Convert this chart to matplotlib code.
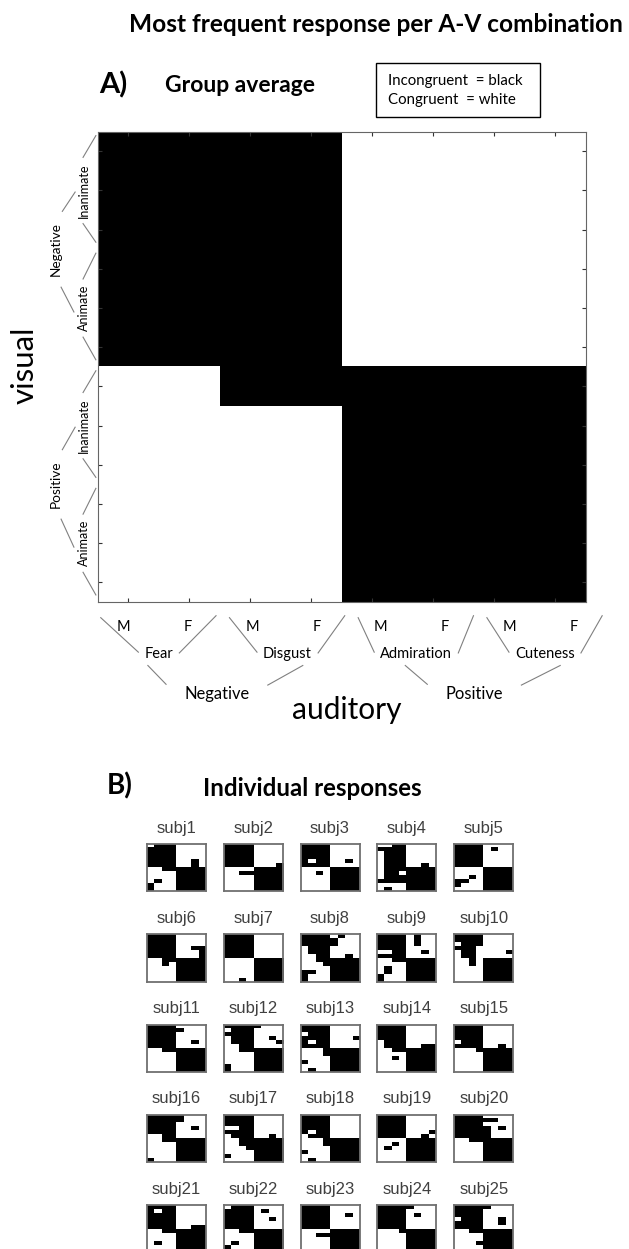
import numpy as np
import matplotlib
matplotlib.use("Agg")
import matplotlib.pyplot as plt
from matplotlib.colors import ListedColormap
from matplotlib.patches import Rectangle

# '#' = incongruent (black), '.' = congruent (white)
# rows: visual items (Neg inanimate x3, Neg animate x3, Pos inanimate x3, Pos animate x3)
# cols: auditory items (Fear M/F, Disgust M/F, Admiration M/F, Cuteness M/F)
group_avg = [
    "####....", "####....", "####....", "####....", "####....", "####....",
    "..######", "....####", "....####", "....####", "....####", "....####",
]

sound_sex = ["M", "F", "M", "F", "M", "F", "M", "F"]
sound_cats = ["Fear", "Disgust", "Admiration", "Cuteness"]
valence = ["Negative", "Positive"]
visual_cats = ["Inanimate", "Animate", "Inanimate", "Animate"]

subj_labels = ["subj%d" % i for i in range(1, 26)]
subj_grids = [
    [".###....", "####....", "####....", "####....", "####..#.", "####..#.",
     "..######", "....####", "....####", ".#..####", "#...####", "#...####"],
    ["####....", "####....", "####....", "####....", "####....", "####...#",
     "....####", "..######", "....####", "....####", "....####", "....####"],
    ["####....", "####....", "####....", "####....", "#.##..#.", "####....",
     "....####", "..#.####", "....####", "....####", "....####", "....####"],
    ["..##....", "####....", ".###....", ".###....", ".###....", ".###..#.",
     ".#######", ".##.####", ".#######", "########", "....####", ".#..####"],
    ["####....", "####.#..", "####....", "####....", "####....", "####....",
     "....####", "....####", "..#.####", "##..####", "#...####", "....####"],
    ["####....", "####....", "####....", "####..##", "####...#", "####...#",
     "..######", "..#.####", "....####", "....####", "....####", "....####"],
    ["####....", "####....", "####....", "####....", "####....", "####....",
     "....####", "....####", "....####", "....####", "....####", "..#.####"],
    ["####.#..", "#####...", "#####...", ".###....", ".###....", "..##..#.",
     "..######", "...#####", "....####", "##..####", "#...####", "#...####"],
    ["####.#..", "####.#..", "####.#..", "####....", "..##..#.", "####....",
     "..######", "....####", ".#..####", ".#..####", "#...####", "#...####"],
    ["####....", "####....", ".###....", "###.....", ".##....#", ".##.....",
     "..#.####", "..#.####", "....####", "....####", "....####", "....####"],
    ["####....", "#####...", "####....", "####....", "####..#.", "####....",
     "..######", "....####", "....####", "....####", "....####", "....####"],
    ["#####...", ".###....", "####....", ".###..#.", ".###...#", "..##....",
     "..######", "....####", "....####", "....####", "#...####", "#...####"],
    ["####....", "####....", ".###....", "####...#", "#.##....", "####....",
     "...#####", "...#####", "....####", "#...####", "....####", ".#..####"],
    ["####....", "####....", "####....", "####....", ".###....", ".###..##",
     "..######", "....####", "..#.####", "....####", "....####", "....####"],
    ["####....", "####....", "####....", "####....", ".###....", "####..#.",
     "...#####", "....####", "....####", "....####", "....####", "....####"],
    ["#####...", "#####...", "####....", "####..#.", "####....", "..##....",
     "..######", "....####", "....####", "....####", "....####", "#...####"],
    ["####....", "####....", "####....", "..##....", "####....", ".###..#.",
     "..######", "..######", "...#####", "....####", "#...####", "....####"],
    ["####....", "####....", "####....", "####....", "#.##....", ".###....",
     "...#####", "...#####", "....####", "#...####", "....####", ".#..####"],
    ["####....", "####....", "####....", "####....", "####...#", "####..#.",
     "....####", "..#.####", ".#..####", "....####", "....####", "....####"],
    ["####....", "######..", "####....", "#####.#.", "#####...", "#####...",
     "..######", "....####", "....####", "....####", "....####", "....####"],
    ["####....", "#.##....", "####....", "####....", "####....", "####..##",
     "..######", "....####", "....####", ".#..####", "....####", "....####"],
    [".###....", "####.#..", "####....", "####..#.", "####....", "####....",
     "..######", "....####", "....####", ".#..####", "#...####", "....####"],
    ["####....", "####....", "####..#.", "####....", "####....", "####....",
     "....####", "..######", "....####", "....####", "....####", "....####"],
    ["#####...", "####....", "####.#..", "####....", "####....", "####....",
     "...#####", "....####", "....####", "....####", "....####", "....####"],
    ["#####...", "####....", "####....", ".###..#.", "####..#.", "####....",
     "..######", "....####", "....####", "...#####", "....####", "....####"],
]

CAL = ["Lato", "DejaVu Sans"]
ARIAL = ["Liberation Sans", "DejaVu Sans"]
LINE = "#808080"
W, H = 629, 1249


def fx(x):
    return x / W


def fy(y):
    return 1 - y / H


def to_grid(rows):
    return np.array([[1 if ch == "#" else 0 for ch in r] for r in rows])


bw = ListedColormap(["white", "black"])

fig = plt.figure(figsize=(W / 100, H / 100), dpi=100)
renderer = fig.canvas.get_renderer()

# headers
fig.text(fx(376), fy(25), "Most frequent response per A-V combination",
         ha="center", va="center", fontsize=17.6, fontweight="bold", family=CAL)
fig.text(fx(99), fy(85), "A)", ha="left", va="center", fontsize=21,
         fontweight="bold", family=CAL)
fig.text(fx(165), fy(86), "Group average", ha="left", va="center",
         fontsize=16.5, fontweight="bold", family=CAL)

# legend box
fig.add_artist(Rectangle((fx(376), fy(117)), fx(540) - fx(376), fy(63) - fy(117),
                         transform=fig.transFigure, fill=False, ec="black", lw=1))
fig.text(fx(388), fy(81), "Incongruent  = black", ha="left", va="center",
         fontsize=10.8, family=CAL)
fig.text(fx(388), fy(100), "Congruent  = white", ha="left", va="center",
         fontsize=10.8, family=CAL)

# ---- A) group average matrix ----
ax = fig.add_axes([fx(97.7), fy(602), fx(585.7) - fx(97.7), fy(131.7) - fy(602)])
ax.imshow(to_grid(group_avg), cmap=bw, vmin=0, vmax=1, aspect="auto",
          interpolation="nearest")
ax.set_xlim(-0.5, len(sound_sex) - 0.5)
ax.set_ylim(len(group_avg) - 0.5, -0.5)
ax.autoscale(False)
ax.set_xticks(range(len(sound_sex)))
ax.set_yticks(range(len(group_avg)))
ax.set_xticklabels([])
ax.set_yticklabels([])
ax.tick_params(direction="in", length=3, width=0.8, color="#333333",
               top=True, right=True)
for sp in ax.spines.values():
    sp.set_color("#666666")
    sp.set_linewidth(0.8)


def extent(t):
    bb = t.get_window_extent(renderer).transformed(ax.transData.inverted())
    return min(bb.x0, bb.x1), max(bb.x0, bb.x1), min(bb.y0, bb.y1), max(bb.y0, bb.y1)


def seg(x0, y0, x1, y1):
    ax.plot([x0, x1], [y0, y1], color=LINE, lw=0.8, clip_on=False)


def sx(x):
    # the hand-drawn label overlay is a little wider than the matrix
    return -0.5 + (x + 0.5) * 1.055


# bottom: auditory hierarchy
for i, s in enumerate(sound_sex):
    ax.text(sx(i - 0.1), 12.14, s, ha="center", va="center", fontsize=10.5, family=CAL)
sub_mid = []
for g, name in enumerate(sound_cats):
    ea, eb = 2 * g - 0.5, 2 * g + 1.5
    c = sx((ea + eb) / 2 - 0.05)
    t = ax.text(c, 12.83, name, ha="center", va="center", fontsize=10.5, family=CAL)
    x0, x1, _, _ = extent(t)
    seg(sx(ea) + 0.05, 11.9, x0 - 0.1, 12.78)
    seg(sx(eb) - 0.17, 11.85, x1 + 0.1, 12.8)
    sub_mid.append(c)
for v, name in enumerate(valence):
    c = sx(4 * v + 1.4) - 0.05
    t = ax.text(c, 13.86, name, ha="center", va="center", fontsize=11.9, family=CAL)
    x0, x1, _, _ = extent(t)
    seg(sub_mid[2 * v] - 0.18, 13.12, x0 - 0.3, 13.6)
    seg(sub_mid[2 * v + 1] + 0.25, 13.12, x1 + 0.3, 13.62)
ax.text(sx(3.5) - 0.13, 14.25, "auditory", ha="center", va="center",
        fontsize=21.5, family=CAL)

# left: visual hierarchy
for g, name in enumerate(visual_cats):
    ea, eb = 3 * g - 0.5, 3 * g + 2.5
    t = ax.text(-0.72, (ea + eb) / 2, name, rotation=90, ha="center", va="center",
                fontsize=9, family=CAL)
    _, _, y0, y1 = extent(t)
    seg(-0.53, ea + 0.1, -0.74, y0 - 0.15)
    seg(-0.74, y1 + 0.15, -0.53, eb - 0.18)
for v, name in enumerate(valence):
    t = ax.text(-1.18, 6 * v + 2.5, name, rotation=90, ha="center", va="center",
                fontsize=9.8, family=CAL)
    _, _, y0, y1 = extent(t)
    seg(-0.87, 6 * v + 1.04, -1.08, y0 - 0.28)
    seg(-0.89, 6 * v + 4.1, -1.1, y1 + 0.28)
ax.text(-1.69, 5.46, "visual", rotation=90, ha="center", va="center",
        fontsize=22.5, family=CAL)

# ---- B) individual responses ----
fig.text(fx(107), fy(786), "B)", ha="left", va="center", fontsize=20,
         fontweight="bold", family=CAL)
fig.text(fx(312), fy(788), "Individual responses", ha="center", va="center",
         fontsize=17.4, fontweight="bold", family=CAL)

n_per_row = 5
for k, (lab, rows) in enumerate(zip(subj_labels, subj_grids)):
    r, c = divmod(k, n_per_row)
    left = 146.7 + c * 76.9
    top = 844 + r * 90.3
    sa = fig.add_axes([fx(left), fy(top + 47.3), 59 / W, 47.3 / H])
    sa.imshow(to_grid(rows), cmap=bw, vmin=0, vmax=1, aspect="auto",
              interpolation="nearest")
    sa.set_xticks([])
    sa.set_yticks([])
    for sp in sa.spines.values():
        sp.set_color("#707070")
        sp.set_linewidth(1.3)
    fig.text(fx(left + 29.5), fy(top - 16), lab, ha="center", va="center",
             fontsize=12, color="#404040", family=ARIAL)

fig.savefig("out.png", dpi=100)
